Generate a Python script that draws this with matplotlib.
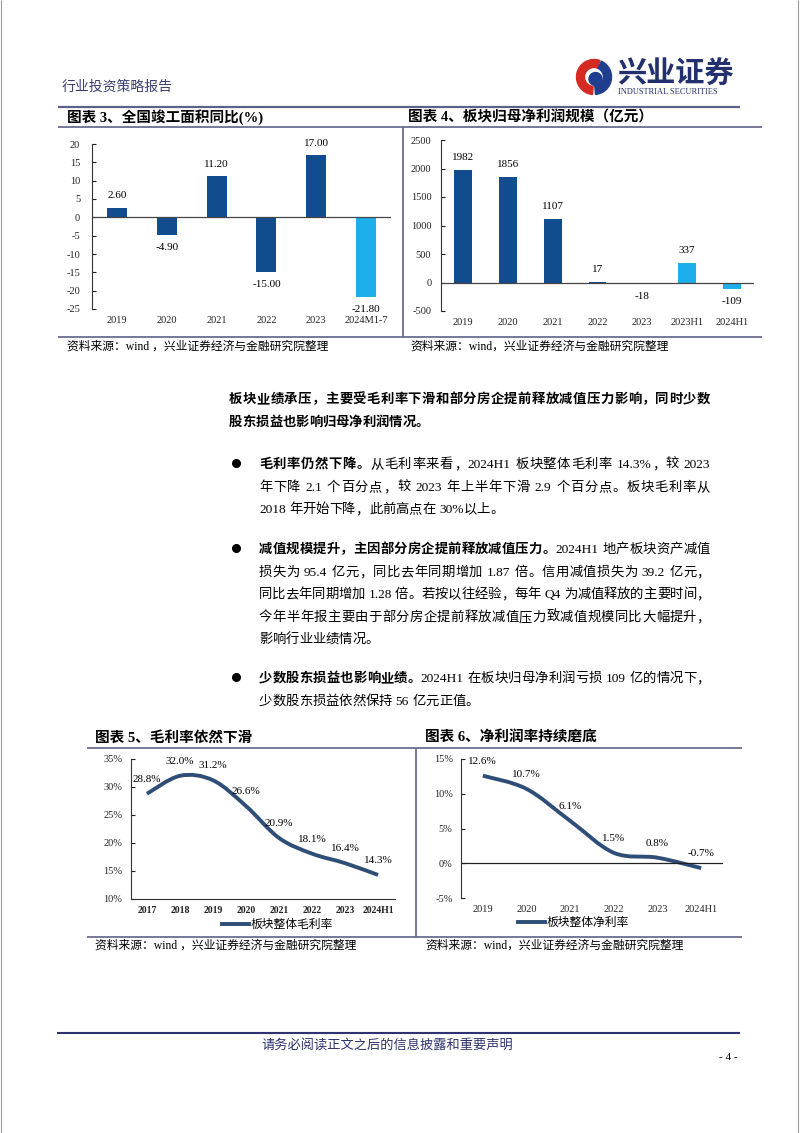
import matplotlib
matplotlib.use('Agg')
import matplotlib.pyplot as plt
from matplotlib.path import Path
from matplotlib.patches import PathPatch, Wedge, Circle
from matplotlib.lines import Line2D
import numpy as np

# ---------------- data ----------------
c3_cats = ['2019', '2020', '2021', '2022', '2023', '2024M1-7']
c3_vals = [2.60, -4.90, 11.20, -15.00, 17.00, -21.80]
c3_light = [False, False, False, False, False, True]

c4_cats = ['2019', '2020', '2021', '2022', '2023', '2023H1', '2024H1']
c4_vals = [1982, 1856, 1107, 17, -18, 337, -109]
c4_light = [False, False, False, False, False, True, True]

c5_cats = ['2017', '2018', '2019', '2020', '2021', '2022', '2023', '2024H1']
c5_vals = [28.8, 32.0, 31.2, 26.6, 20.9, 18.1, 16.4, 14.3]

c6_cats = ['2019', '2020', '2021', '2022', '2023', '2024H1']
c6_vals = [12.6, 10.7, 6.1, 1.5, 0.8, -0.7]

# ---------------- setup ----------------
plt.rcParams['font.family'] = ['Liberation Serif', 'Noto Sans CJK SC', 'DejaVu Sans']
plt.rcParams['axes.unicode_minus'] = False
W, H = 802, 1133
fig = plt.figure(figsize=(W / 100, H / 100), dpi=100)
page = fig.add_axes([0, 0, 1, 1])
page.set_xlim(0, W)
page.set_ylim(H, 0)
page.axis('off')

DARK = '#114C8E'
LIGHT = '#1DAFEC'
LINEC = '#2F4E77'
FRAME = '#6A6D8F'
NAVY = '#2E3270'


def ax_at(l, t, r, b):
    a = fig.add_axes([l / W, 1 - b / H, (r - l) / W, (b - t) / H])
    a.set_facecolor('none')
    return a


def hline(y, x0, x1, color=FRAME, lw=1.3):
    page.plot([x0, x1], [y, y], color=color, lw=lw, solid_capstyle='butt')


def vline(x, y0, y1, color=FRAME, lw=1.3):
    page.plot([x, x], [y0, y1], color=color, lw=lw, solid_capstyle='butt')


# page borders
vline(1, 0, H, color='#9A9A9A', lw=0.8)
vline(798, 0, H, color='#9A9A9A', lw=0.8)

# ---------------- header ----------------
page.text(62, 87, '行业投资策略报告', fontsize=10, color='#3B3D6E', va='center', ha='left')
cx, cy = 594, 77
page.add_patch(Wedge((cx, cy), 17.5, 95, 290, width=8, color='#D52A22'))
page.add_patch(Wedge((cx, cy), 17.5, -65, 85, width=8, color='#1F3F8E'))
page.add_patch(Circle((cx + 1.5, cy + 2), 6.5, color='#1F3F8E'))
page.text(617, 74, '兴业证券', fontsize=21, fontweight='bold', color='#22306E',
          va='center', ha='left', family=['Noto Sans CJK SC'])
page.text(618, 92, 'INDUSTRIAL SECURITIES', fontsize=6, color='#22306E', va='center', ha='left')
hline(107, 58, 740, color='#5E6186', lw=1.6)

# ---------------- frames for charts 3/4 ----------------
hline(127, 58, 762)
hline(337, 58, 762)
vline(403, 127, 337)
page.text(67, 117, '图表 3、全国竣工面积同比(%)', fontsize=10.5, fontweight='bold', va='center')
page.text(408, 117, '图表 4、板块归母净利润规模（亿元）', fontsize=10.5, fontweight='bold', va='center')
page.text(67, 347, '资料来源：wind ，兴业证券经济与金融研究院整理', fontsize=8.5, va='center')
page.text(410, 347, '资料来源：wind，兴业证券经济与金融研究院整理', fontsize=8.5, va='center')


def style_axes(ax, ypad):
    for s in ['top', 'right', 'bottom']:
        ax.spines[s].set_visible(False)
    ax.spines['left'].set_color('#333333')
    ax.spines['left'].set_linewidth(0.8)
    ax.tick_params(axis='y', direction='in', length=3, width=0.8, pad=ypad,
                   labelsize=7.5, colors='#222222')
    ax.tick_params(axis='x', length=0, pad=5, labelsize=7.5, colors='#222222')


# ---------------- chart 3 ----------------
ax3 = ax_at(92, 144, 391, 309)
x3 = np.arange(len(c3_cats))
ax3.bar(x3, c3_vals, width=0.4, color=[LIGHT if f else DARK for f in c3_light])
ax3.axhline(0, color='#444444', lw=0.9)
ax3.set_xlim(-0.5, len(c3_cats) - 0.5)
ax3.set_ylim(-25, 20)
ax3.set_yticks(np.arange(-25, 21, 5))
ax3.set_xticks(x3)
ax3.set_xticklabels(c3_cats)
style_axes(ax3, 8.5)
for xi, v in zip(x3, c3_vals):
    ax3.annotate(f'{v:.2f}', (xi, v), xytext=(0, 8.5 if v >= 0 else -9),
                 textcoords='offset points', ha='center', va='center', fontsize=8)

# ---------------- chart 4 ----------------
ax4 = ax_at(441, 140, 754, 311)
x4 = np.arange(len(c4_cats))
ax4.bar(x4, c4_vals, width=0.4, color=[LIGHT if f else DARK for f in c4_light])
ax4.axhline(0, color='#444444', lw=0.9)
ax4.set_xlim(-0.5, len(c4_cats) - 0.5)
ax4.set_ylim(-500, 2500)
ax4.set_yticks(np.arange(-500, 2501, 500))
ax4.set_xticks(x4)
ax4.set_xticklabels(c4_cats)
style_axes(ax4, 7)
for xi, v in zip(x4, c4_vals):
    ax4.annotate(f'{v:.0f}', (xi, v), xytext=(0, 9 if v >= 0 else -9.5),
                 textcoords='offset points', ha='center', va='center', fontsize=8)

# ---------------- body text ----------------
renderer = fig.canvas.get_renderer()
BS = 9.6
EM = BS * 100 / 72


def tokenize(segs):
    toks = []
    for text, bold in segs:
        buf = ''
        for ch in text:
            if ch.isascii() and ch != ' ':
                buf += ch
            else:
                if buf:
                    toks.append((buf, bold))
                    buf = ''
                toks.append((ch, bold))
        if buf:
            toks.append((buf, bold))
    return toks


def advance(tok, bold):
    if tok == ' ':
        return 0.25 * EM
    if not tok.isascii():
        return EM
    w = 'bold' if bold else 'normal'
    t1 = page.text(0, 0, '|' + tok + '|', fontsize=BS, fontweight=w)
    t2 = page.text(0, 0, '||', fontsize=BS, fontweight=w)
    a = t1.get_window_extent(renderer).width - t2.get_window_extent(renderer).width
    t1.remove()
    t2.remove()
    return a


def draw_line(y, x0, x1, segs, justify):
    toks = tokenize(segs)
    advs = [advance(t, b) for t, b in toks]
    total = sum(advs)
    extra = (x1 - x0 - total) / (len(toks) - 1) if (justify and len(toks) > 1) else 0
    x = x0
    for (t, b), a in zip(toks, advs):
        if t != ' ':
            page.text(x, y + 5, t, fontsize=BS, fontweight='bold' if b else 'normal',
                      ha='left', va='baseline', color='black')
        x += a + extra


RIGHT = 710
para0 = [[('板块业绩承压，主要受毛利率下滑和部分房企提前释放减值压力影响，同时少数', True)],
         [('股东损益也影响归母净利润情况。', True)]]
para1 = [[('毛利率仍然下降。', True), ('从毛利率来看，2024H1 板块整体毛利率 14.3%，较 2023', False)],
         [('年下降 2.1 个百分点，较 2023 年上半年下滑 2.9 个百分点。板块毛利率从', False)],
         [('2018 年开始下降，此前高点在 30%以上。', False)]]
para2 = [[('减值规模提升，主因部分房企提前释放减值压力。', True), ('2024H1 地产板块资产减值', False)],
         [('损失为 95.4 亿元，同比去年同期增加 1.87 倍。信用减值损失为 39.2 亿元，', False)],
         [('同比去年同期增加 1.28 倍。若按以往经验，每年 Q4 为减值释放的主要时间，', False)],
         [('今年半年报主要由于部分房企提前释放减值压力致减值规模同比大幅提升，', False)],
         [('影响行业业绩情况。', False)]]
para3 = [[('少数股东损益也影响业绩。', True), ('2024H1 在板块归母净利润亏损 109 亿的情况下，', False)],
         [('少数股东损益依然保持 56 亿元正值。', False)]]

for i, (segs, y) in enumerate(zip(para0, [398, 421])):
    draw_line(y, 229, RIGHT, segs, i < len(para0) - 1)
for para, ys in [(para1, [463, 486, 508]),
                 (para2, [548, 571, 593, 616, 638]),
                 (para3, [677, 700])]:
    page.plot(236, ys[0], 'o', ms=5.5, color='black')
    for i, (segs, y) in enumerate(zip(para, ys)):
        draw_line(y, 259, RIGHT, segs, i < len(para) - 1)

# ---------------- frames for charts 5/6 ----------------
hline(748, 87, 742)
hline(937, 87, 742)
vline(416, 748, 937)
page.text(95, 738, '图表 5、毛利率依然下滑', fontsize=10.5, fontweight='bold', va='center')
page.text(425, 738, '图表 6、净利润率持续磨底', fontsize=10.5, fontweight='bold', va='center')
page.text(95, 946, '资料来源：wind ，兴业证券经济与金融研究院整理', fontsize=8.5, va='center')
page.text(425, 946, '资料来源：wind，兴业证券经济与金融研究院整理', fontsize=8.5, va='center')


def smooth_path(xs, ys):
    P = np.column_stack([xs, ys]).astype(float)
    n = len(P)
    verts = [P[0]]
    codes = [Path.MOVETO]
    for i in range(n - 1):
        p0 = P[i - 1] if i > 0 else P[i]
        p1, p2 = P[i], P[i + 1]
        p3 = P[i + 2] if i + 2 < n else P[i + 1]
        verts += [p1 + (p2 - p0) / 6, p2 - (p3 - p1) / 6, p2]
        codes += [Path.CURVE4] * 3
    return Path(verts, codes)


def line_chart(ax, cats, vals, ylim, yticks, legend_xy, legend_label, bottom_spine):
    x = np.arange(len(cats))
    ax.add_patch(PathPatch(smooth_path(x, vals), fill=False, edgecolor=LINEC, lw=2.8,
                           capstyle='butt', transform=ax.transData))
    ax.set_xlim(-0.5, len(cats) - 0.5)
    ax.set_ylim(*ylim)
    ax.set_yticks(yticks)
    ax.set_yticklabels([f'{t}%' for t in yticks])
    ax.set_xticks(x)
    ax.set_xticklabels(cats)
    style_axes(ax, 6)
    if bottom_spine:
        ax.spines['bottom'].set_visible(True)
        ax.spines['bottom'].set_color('#333333')
        ax.spines['bottom'].set_linewidth(0.8)
    for xi, v in zip(x, vals):
        ax.annotate(f'{v:.1f}%', (xi, v), xytext=(0, 10.5), textcoords='offset points',
                    ha='center', va='center', fontsize=8)
    h = Line2D([], [], color=LINEC, lw=2.8)
    ax.legend([h], [legend_label], loc='center left',
              bbox_to_anchor=(legend_xy[0] / W, 1 - legend_xy[1] / H),
              bbox_transform=fig.transFigure, frameon=False, fontsize=8.5,
              handlelength=2.25, handletextpad=0.2, borderpad=0, borderaxespad=0)


ax5 = ax_at(130.5, 759, 394.5, 899)
line_chart(ax5, c5_cats, c5_vals, (10, 35), list(range(10, 36, 5)), (222, 925), '板块整体毛利率', True)
ax5.tick_params(axis='x', labelsize=7)
for lab in ax5.get_xticklabels():
    lab.set_fontweight('bold')

ax6 = ax_at(461, 759, 723, 898)
line_chart(ax6, c6_cats, c6_vals, (-5, 15), list(range(-5, 16, 5)), (518, 923), '板块整体净利率', False)
ax6.axhline(0, color='#222222', lw=0.9)

# ---------------- footer ----------------
hline(1033, 57, 740, color=NAVY, lw=1.5)
page.text(387, 1046, '请务必阅读正文之后的信息披露和重要声明', fontsize=9.5, color=NAVY,
          ha='center', va='center')
page.text(728, 1057, '- 4 -', fontsize=8, ha='center', va='center')

fig.savefig('out.png', dpi=100)
